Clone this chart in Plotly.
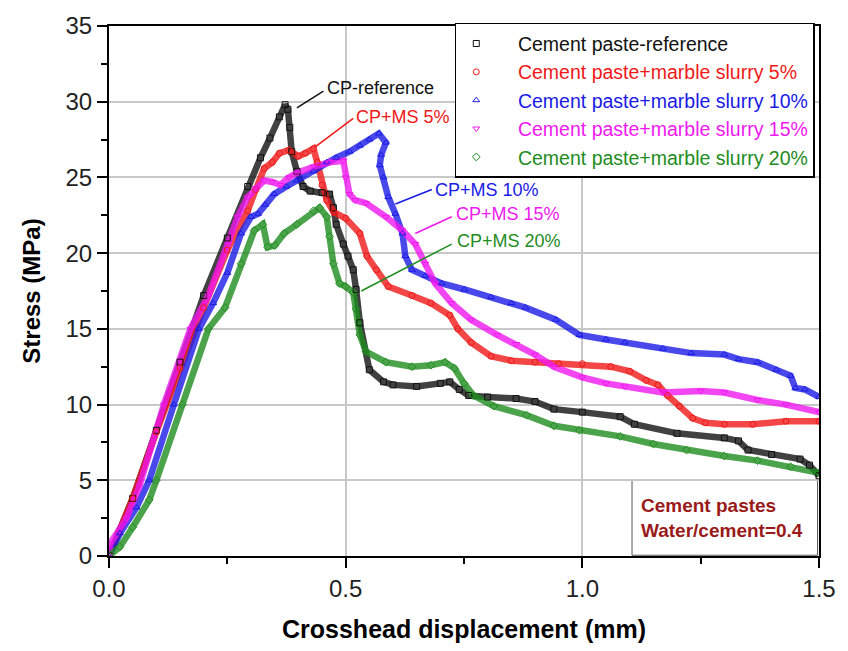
import plotly.graph_objects as go

# Stress vs crosshead displacement for cement pastes with marble slurry
ref_x = [0, 0.05, 0.1, 0.15, 0.2, 0.25, 0.293, 0.32, 0.34, 0.36, 0.372, 0.378, 0.382, 0.386, 0.397, 0.41,
         0.425, 0.45, 0.466, 0.474, 0.48, 0.495, 0.505, 0.516, 0.522, 0.53, 0.55, 0.58, 0.6, 0.65, 0.7, 0.72,
         0.74, 0.76, 0.8, 0.86, 0.9, 0.94, 1.0, 1.08, 1.11, 1.2, 1.3, 1.33, 1.35, 1.4, 1.46, 1.48, 1.5]
ref_y = [0, 3.8, 8.3, 12.8, 17.2, 21.0, 24.4, 26.3, 27.6, 29.0, 29.8, 29.5, 28.3, 26.7, 25.4, 24.4,
         24.1, 24.0, 23.9, 23.0, 21.9, 20.6, 19.8, 18.9, 17.6, 15.4, 12.3, 11.5, 11.3, 11.2, 11.4, 11.5,
         11.0, 10.6, 10.5, 10.4, 10.2, 9.7, 9.5, 9.2, 8.7, 8.1, 7.8, 7.6, 7.0, 6.7, 6.4, 6.0, 5.3]

ms5_x = [0, 0.05, 0.1, 0.15, 0.2, 0.25, 0.293, 0.31, 0.328, 0.345, 0.36, 0.38, 0.4, 0.415, 0.432, 0.44,
         0.45, 0.46, 0.475, 0.5, 0.53, 0.545, 0.565, 0.59, 0.64, 0.68, 0.72, 0.737, 0.765, 0.807, 0.85,
         0.9, 0.95, 1.0, 1.06, 1.1, 1.135, 1.16, 1.18, 1.205, 1.233, 1.26, 1.3, 1.36, 1.43, 1.5]
ms5_y = [0, 3.8, 8.2, 12.4, 16.4, 20.2, 22.8, 24.2, 25.6, 26.0, 26.6, 26.8, 26.4, 26.6, 26.9, 26.0,
         24.5, 23.5, 22.7, 22.3, 21.3, 19.8, 18.9, 17.8, 17.2, 16.7, 15.9, 15.0, 14.1, 13.2, 12.9,
         12.8, 12.7, 12.7, 12.5, 12.2, 11.6, 11.3, 10.6, 9.9, 9.1, 8.8, 8.7, 8.7, 8.9, 8.9]

ms10_x = [0, 0.023, 0.058, 0.085, 0.137, 0.19, 0.22, 0.25, 0.279, 0.3, 0.315, 0.33, 0.349, 0.375, 0.397,
          0.432, 0.46, 0.48, 0.508, 0.53, 0.55, 0.57, 0.585, 0.575, 0.572, 0.58, 0.59, 0.605, 0.62, 0.626,
          0.64, 0.668, 0.703, 0.751, 0.807, 0.85, 0.88, 0.944, 0.994, 1.05, 1.09, 1.17, 1.23, 1.30, 1.33,
          1.37, 1.41, 1.44, 1.45, 1.47, 1.5]
ms10_y = [0, 1.5, 3.2, 5.0, 10.0, 15.0, 16.7, 18.7, 21.3, 22.4, 22.6, 23.2, 23.9, 24.4, 24.8,
          25.4, 26.0, 26.3, 26.7, 27.1, 27.5, 27.9, 27.3, 26.5, 25.8, 25.0, 23.7, 22.6, 21.3, 19.8,
          18.9, 18.5, 18.0, 17.6, 17.1, 16.7, 16.4, 15.6, 14.6, 14.3, 14.1, 13.7, 13.4, 13.3, 13.0,
          12.8, 12.3, 11.9, 11.1, 11.0, 10.5]

ms15_x = [0, 0.002, 0.037, 0.064, 0.116, 0.172, 0.21, 0.252, 0.272, 0.293, 0.31, 0.328, 0.345, 0.362,
          0.38, 0.397, 0.432, 0.466, 0.495, 0.5, 0.508, 0.52, 0.543, 0.585, 0.62, 0.647, 0.668, 0.689,
          0.724, 0.765, 0.82, 0.86, 0.9, 0.94, 1.0, 1.05, 1.09, 1.17, 1.25, 1.30, 1.37, 1.43, 1.5]
ms15_y = [0, 0.8, 2.5, 4.6, 10.0, 15.0, 17.2, 20.6, 22.4, 23.7, 24.3, 24.8, 24.7, 24.5,
          25.0, 25.3, 25.7, 26.0, 26.1, 25.0, 23.9, 23.5, 23.3, 22.4, 21.5, 20.6, 19.3, 18.0,
          16.7, 15.6, 14.6, 14.0, 13.3, 12.5, 11.8, 11.4, 11.2, 10.8, 10.9, 10.8, 10.3, 10.0, 9.5]

ms20_x = [0, 0.023, 0.05, 0.085, 0.1, 0.155, 0.21, 0.245, 0.279, 0.307, 0.325, 0.335, 0.35, 0.37, 0.397,
          0.432, 0.445, 0.46, 0.466, 0.474, 0.487, 0.5, 0.516, 0.522, 0.53, 0.543, 0.585, 0.64, 0.68,
          0.71, 0.73, 0.75, 0.77, 0.813, 0.882, 0.94, 0.994, 1.08, 1.15, 1.22, 1.30, 1.37, 1.44, 1.5]
ms20_y = [0, 0.6, 1.9, 3.7, 5.0, 10.0, 15.0, 16.4, 19.3, 21.5, 21.9, 20.4, 20.5, 21.3, 21.9,
          22.8, 23.0, 22.4, 21.1, 19.3, 18.0, 17.8, 17.4, 16.3, 14.6, 13.5, 12.8, 12.5, 12.6,
          12.8, 12.4, 11.4, 10.6, 9.9, 9.3, 8.6, 8.3, 7.9, 7.4, 7.0, 6.6, 6.3, 5.9, 5.5]

names = ["Cement paste-reference", "Cement paste+marble slurry 5%", "Cement paste+marble slurry 10%",
         "Cement paste+marble slurry 15%", "Cement paste+marble slurry 20%"]
short_names = ["CP-reference", "CP+MS 5%", "CP+MS 10%", "CP+MS 15%", "CP+MS 20%"]
colors = ["#111111", "#f01818", "#1a1ae6", "#f018f0", "#1e8c1e"]
band_colors = ["rgba(17,17,17,0.8)", "rgba(240,24,24,0.8)", "rgba(26,26,230,0.8)",
               "rgba(240,24,240,0.8)", "rgba(30,140,30,0.8)"]
symbols = ["square-open", "circle-open", "triangle-up-open", "triangle-down-open", "diamond-open"]
series = [(ref_x, ref_y), (ms5_x, ms5_y), (ms10_x, ms10_y), (ms15_x, ms15_y), (ms20_x, ms20_y)]

# label text position (x, y) and leader line (x0, y0, x1, y1) in data units
label_pos = [(0.456, 30.9), (0.518, 29.0), (0.684, 24.2), (0.728, 22.6), (0.730, 20.8)]
leader = [(0.397, 29.6, 0.453, 30.7), (0.435, 27.0, 0.516, 28.9), (0.605, 23.25, 0.682, 24.2),
          (0.647, 21.3, 0.724, 22.4), (0.533, 17.5, 0.724, 20.6)]

FONT = "Liberation Sans, Arial, sans-serif"
GAP = "\u00a0" * 4

fig = go.Figure()
for i, (xs, ys) in enumerate(series):
    fig.add_trace(go.Scatter(x=xs, y=ys, mode="lines", showlegend=False, hoverinfo="skip",
                             line=dict(color=band_colors[i], width=6.5)))
for i, (xs, ys) in enumerate(series):
    fig.add_trace(go.Scatter(
        x=xs, y=ys, mode="markers",
        name=f"{GAP}<span style='color:{colors[i]}'>{names[i]}</span>",
        marker=dict(symbol=symbols[i], size=6, color=colors[i], line=dict(width=1, color=colors[i]))))

annotations = []
shapes = []
for i in range(5):
    lx, ly = label_pos[i]
    annotations.append(dict(x=lx, y=ly, xref="x", yref="y", text=short_names[i], showarrow=False,
                            xanchor="left", yanchor="middle",
                            font=dict(family=FONT, size=18, color=colors[i])))
    x0, y0, x1, y1 = leader[i]
    shapes.append(dict(type="line", xref="x", yref="y", x0=x0, y0=y0, x1=x1, y1=y1,
                       line=dict(color=colors[i], width=1.5)))

# note box at lower right
shapes.append(dict(type="rect", xref="x", yref="y", x0=1.105, y0=0.05, x1=1.497, y1=5.0,
                   line=dict(color="#555555", width=1), fillcolor="white", layer="below"))
annotations.append(dict(x=1.12, y=2.5, xref="x", yref="y", showarrow=False, xanchor="left",
                        yanchor="middle", align="left",
                        text="<b>Cement pastes</b><br><b>Water/cement=0.4</b>",
                        font=dict(family=FONT, size=19, color="#9a1a1a")))

axis_common = dict(showline=True, linecolor="black", linewidth=2, mirror=True,
                   ticks="outside", ticklen=10, tickwidth=1.5, tickcolor="black",
                   showgrid=True, gridcolor="#c8c8c8", gridwidth=1.5, zeroline=False,
                   tickfont=dict(family=FONT, size=24, color="#222222"))

fig.update_layout(
    width=848, height=651,
    margin=dict(l=109, r=18, t=20, b=95),
    paper_bgcolor="white", plot_bgcolor="white",
    font=dict(family=FONT, color="black"),
    xaxis=dict(range=[0, 1.5], dtick=0.5, tickformat=".1f",
               title=dict(text="<b>Crosshead displacement (mm)</b>", font=dict(family=FONT, size=25),
                          standoff=20),
               minor=dict(dtick=0.25, ticks="outside", ticklen=6, tickcolor="black", showgrid=False),
               **axis_common),
    yaxis=dict(range=[0, 35], dtick=5,
               title=dict(text="<b>Stress (MPa)</b>", font=dict(family=FONT, size=24), standoff=18),
               minor=dict(dtick=2.5, ticks="outside", ticklen=6, tickcolor="black", showgrid=False),
               **axis_common),
    legend=dict(x=0.487, y=1.006, xanchor="left", yanchor="top", bgcolor="white",
                bordercolor="black", borderwidth=1.5, font=dict(family=FONT, size=19.5),
                tracegroupgap=0),
    annotations=annotations,
    shapes=shapes,
)

fig.write_html("out.html")
